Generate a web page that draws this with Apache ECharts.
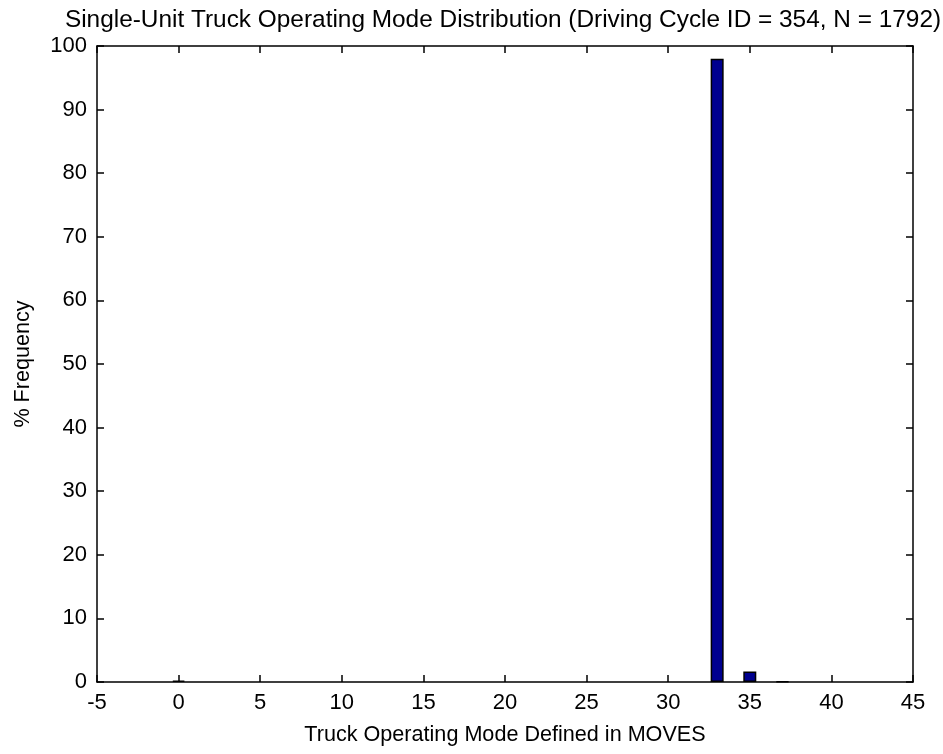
<!DOCTYPE html>
<html><head><meta charset="utf-8">
<script src="https://cdn.jsdelivr.net/npm/echarts@6/dist/echarts.min.js"></script>
<style>html,body{margin:0;padding:0;background:#fff}#c{width:943px;height:754px}</style>
</head><body><div id="c"></div>
<script>
const modes = [0, 33, 35, 37];
const freqPct = [0.22, 98.0, 1.67, 0.11];
const titleText = 'Single-Unit Truck Operating Mode Distribution (Driving Cycle ID = 354, N = 1792)';
const xLabel = 'Truck Operating Mode Defined in MOVES';
const yLabel = '% Frequency';

const FONT = 'Liberation Sans, Arial, sans-serif';
const FS = 22;
const chart = echarts.init(document.getElementById('c'), null, {renderer: 'canvas'});
const axisLine = {show: true, onZero: false, lineStyle: {color: '#000', width: 1.5}};
const tick = {show: true, inside: true, length: 7, lineStyle: {color: '#000', width: 1.5}};
chart.setOption({
  animation: false,
  backgroundColor: '#fff',
  title: {
    text: titleText, left: 503, top: 8, textAlign: 'center', padding: 0,
    textStyle: {fontFamily: FONT, fontSize: 24.4, fontWeight: 'normal', color: '#000'}
  },
  grid: {left: 97, right: 30, top: 46, bottom: 72, containLabel: false},
  xAxis: [{
    type: 'value', min: -5, max: 45, interval: 5, position: 'bottom',
    name: xLabel, nameLocation: 'middle', nameGap: 42,
    nameTextStyle: {fontFamily: FONT, fontSize: 21.6, color: '#000'},
    axisLine, axisTick: tick, splitLine: {show: false},
    axisLabel: {fontFamily: FONT, fontSize: FS, color: '#000', margin: 10}
  }, {
    type: 'value', min: -5, max: 45, interval: 5, position: 'top',
    axisLine, axisTick: tick, splitLine: {show: false}, axisLabel: {show: false}
  }],
  yAxis: [{
    type: 'value', min: 0, max: 100, interval: 10, position: 'left',
    name: yLabel, nameLocation: 'middle', nameGap: 63,
    nameTextStyle: {fontFamily: FONT, fontSize: 21.6, color: '#000'},
    axisLine, axisTick: tick, splitLine: {show: false},
    axisLabel: {fontFamily: FONT, fontSize: FS, color: '#000', margin: 10}
  }, {
    type: 'value', min: 0, max: 100, interval: 10, position: 'right',
    axisLine, axisTick: tick, splitLine: {show: false}, axisLabel: {show: false}
  }],
  series: [{
    type: 'bar', xAxisIndex: 0, yAxisIndex: 0, barWidth: 13,
    data: modes.map((m, i) => [m, freqPct[i]]),
    itemStyle: {color: '#00008F', borderColor: '#000', borderWidth: 1.5}
  }]
});
</script></body></html>
